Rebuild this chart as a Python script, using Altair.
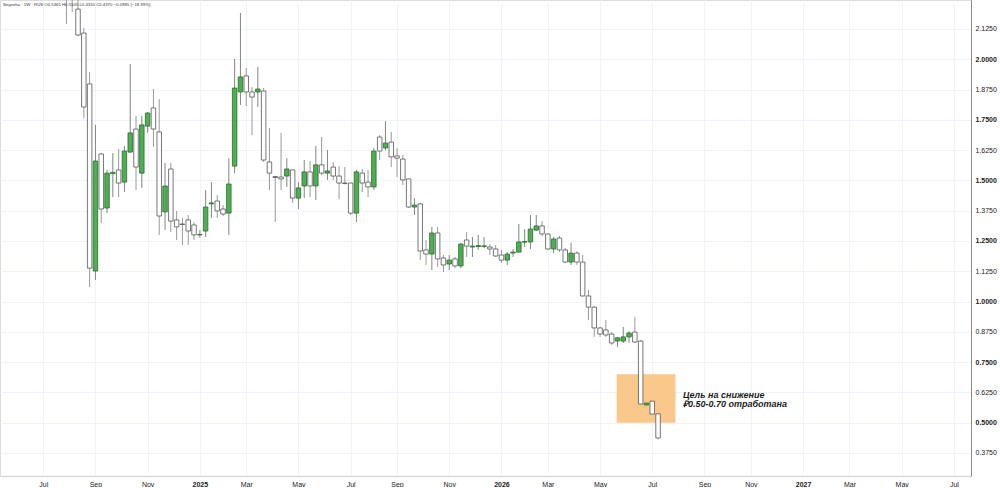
import altair as alt
import pandas as pd

# weekly candles (Mondays), first = 2024-07-29
start_week = "2024-07-29"
opens = [2.40, 2.30, 2.207, 2.108, 1.898, 1.126, 1.609, 1.386, 1.528, 1.543,
         1.493, 1.617, 1.712, 1.530, 1.724, 1.799, 1.700, 1.370, 1.547, 1.337,
         1.320, 1.337, 1.316, 1.275, 1.291, 1.403, 1.415, 1.382, 1.365, 1.559,
         1.865, 1.931, 1.865, 1.865, 1.869, 1.576, 1.516, 1.514, 1.518, 1.543,
         1.427, 1.477, 1.535, 1.477, 1.564, 1.530, 1.555, 1.518, 1.489, 1.489,
         1.365, 1.530, 1.493, 1.473, 1.679, 1.634, 1.658, 1.601, 1.588, 1.506,
         1.390, 1.403, 1.213, 1.196, 1.283, 1.180, 1.155, 1.176, 1.147, 1.254,
         1.225, 1.227, 1.227, 1.225, 1.217, 1.192, 1.171, 1.200, 1.204, 1.245,
         1.246, 1.295, 1.312, 1.279, 1.217, 1.262, 1.213, 1.163, 1.200, 1.163,
         1.023, 0.977, 0.891, 0.883, 0.866, 0.837, 0.837, 0.854, 0.874, 0.837,
         0.573, 0.589, 0.5365]
highs = [2.45, 2.34, 2.26, 2.129, 1.947, 1.729, 1.612, 1.543, 1.613, 1.630,
         1.642, 1.980, 1.766, 1.766, 1.782, 1.877, 1.836, 1.572, 1.572, 1.374,
         1.345, 1.357, 1.328, 1.295, 1.460, 1.493, 1.440, 1.398, 1.592, 2.001,
         2.191, 1.964, 1.885, 1.968, 1.881, 1.716, 1.518, 1.696, 1.592, 1.545,
         1.493, 1.584, 1.580, 1.642, 1.679, 1.625, 1.576, 1.559, 1.555, 1.490,
         1.543, 1.547, 1.543, 1.634, 1.687, 1.745, 1.700, 1.634, 1.605, 1.507,
         1.427, 1.407, 1.254, 1.308, 1.308, 1.192, 1.192, 1.184, 1.242, 1.287,
         1.266, 1.275, 1.266, 1.237, 1.233, 1.213, 1.204, 1.217, 1.320, 1.299,
         1.357, 1.357, 1.332, 1.281, 1.266, 1.270, 1.221, 1.242, 1.208, 1.192,
         1.048, 0.980, 0.895, 0.924, 0.874, 0.854, 0.895, 0.878, 0.936, 0.841,
         0.623, 0.593, 0.5505]
lows = [2.145, 2.195, 2.095, 1.757, 1.060, 1.089, 1.324, 1.365, 1.431, 1.431,
        1.452, 1.613, 1.460, 1.469, 1.696, 1.638, 1.275, 1.295, 1.287, 1.254,
        1.233, 1.233, 1.254, 1.263, 1.266, 1.345, 1.345, 1.353, 1.275, 1.530,
        1.811, 1.807, 1.687, 1.803, 1.576, 1.460, 1.328, 1.460, 1.473, 1.407,
        1.382, 1.427, 1.431, 1.419, 1.522, 1.502, 1.502, 1.423, 1.484, 1.357,
        1.328, 1.452, 1.431, 1.460, 1.584, 1.625, 1.555, 1.514, 1.481, 1.386,
        1.357, 1.171, 1.151, 1.130, 1.143, 1.122, 1.130, 1.138, 1.138, 1.184,
        1.184, 1.213, 1.221, 1.192, 1.184, 1.159, 1.151, 1.184, 1.203, 1.225,
        1.217, 1.291, 1.270, 1.213, 1.200, 1.204, 1.159, 1.151, 1.151, 1.020,
        0.924, 0.854, 0.854, 0.854, 0.821, 0.812, 0.829, 0.829, 0.829, 0.561,
        0.561, 0.536, 0.431]
closes = [2.30, 2.26, 2.100, 1.803, 1.138, 1.580, 1.382, 1.530, 1.533, 1.489,
          1.621, 1.696, 1.555, 1.729, 1.778, 1.712, 1.353, 1.477, 1.332, 1.308,
          1.318, 1.291, 1.275, 1.277, 1.390, 1.407, 1.374, 1.361, 1.485, 1.881,
          1.927, 1.865, 1.844, 1.877, 1.584, 1.530, 1.512, 1.506, 1.547, 1.427,
          1.469, 1.535, 1.477, 1.564, 1.530, 1.539, 1.518, 1.489, 1.487, 1.365,
          1.535, 1.489, 1.473, 1.621, 1.621, 1.654, 1.597, 1.592, 1.502, 1.390,
          1.398, 1.209, 1.196, 1.283, 1.176, 1.151, 1.171, 1.147, 1.237, 1.229,
          1.229, 1.231, 1.230, 1.217, 1.188, 1.171, 1.196, 1.204, 1.246, 1.248,
          1.299, 1.312, 1.279, 1.217, 1.258, 1.213, 1.163, 1.200, 1.163, 1.023,
          0.977, 0.891, 0.866, 0.862, 0.829, 0.850, 0.854, 0.870, 0.833, 0.577,
          0.581, 0.5355, 0.437]

y_ticks = [0.375, 0.5, 0.625, 0.75, 0.875, 1.0, 1.125, 1.25, 1.375, 1.5,
           1.625, 1.75, 1.875, 2.0, 2.125]
x_tick_dates = [(2024, 7, 1), (2024, 9, 2), (2024, 11, 4), (2025, 1, 6), (2025, 3, 3),
                (2025, 5, 5), (2025, 7, 7), (2025, 9, 1), (2025, 11, 3), (2026, 1, 5),
                (2026, 3, 2), (2026, 5, 4), (2026, 7, 6), (2026, 9, 7), (2026, 11, 2),
                (2027, 1, 4), (2027, 3, 1), (2027, 5, 3), (2027, 7, 5)]

zone_dates = ["2026-05-24", "2026-08-03"]
zone_prices = [0.50, 0.70]
note_lines = ["Цель на снижение", "₽0.50-0.70 отработана"]
note_date = "2026-08-12"
note_prices = [0.614, 0.577]
header = "Segezha · 1W · RUS O0.5365 H0.5505 L0.4310 C0.4370 −0.0985 (−18.39%)"

dates = pd.date_range(start_week, periods=len(opens), freq="7D").strftime("%Y-%m-%d")
df = pd.DataFrame({"date": dates, "open": opens, "high": highs, "low": lows, "close": closes})
df["dir"] = ["up" if c >= o else "down" for o, c in zip(opens, closes)]

FONT = "Liberation Sans"
xscale = alt.Scale(type="utc", padding=0,
                   domain=[alt.DateTime(year=2024, month=5, date=9, hours=20, utc=True),
                           alt.DateTime(year=2027, month=7, date=25, hours=16, utc=True)])
yscale = alt.Scale(domain=[0.280, 2.2445], nice=False, zero=False, padding=0)

xaxis = alt.Axis(
    values=[alt.DateTime(year=y, month=m, date=d, utc=True) for y, m, d in x_tick_dates],
    labelExpr="utcmonth(datum.value) == 0 ? utcFormat(datum.value, '%Y') : utcFormat(datum.value, '%b')",
    labelFontWeight={"condition": {"test": "utcmonth(datum.value) == 0", "value": "bold"}, "value": "normal"},
    title=None, grid=True, gridColor="#f0f3fa", gridWidth=1, ticks=False,
    domainColor="#d9d9d9", domainWidth=1.5, labelFont=FONT, labelFontSize=7,
    labelColor="#222222", labelPadding=4, labelFlush=False, labelOverlap=False,
)
yaxis = alt.Axis(
    orient="right", values=y_ticks, format=".4f",
    labelFontWeight={"condition": {"test": "(datum.value * 8) % 2 == 0", "value": "bold"}, "value": "normal"},
    title=None, grid=True, gridColor="#f0f3fa", gridWidth=1, ticks=False,
    domainColor="#8a8a8a", domainWidth=1, labelFont=FONT, labelFontSize=7,
    labelColor="#222222", labelPadding=4, labelOverlap=False, labelBound=False,
)

base = alt.Chart(df)

wicks = base.mark_rule(strokeWidth=1, clip=True).encode(
    x=alt.X("date:T", scale=xscale, axis=xaxis),
    y=alt.Y("low:Q", scale=yscale, axis=yaxis),
    y2="high:Q",
    color=alt.Color("dir:N", scale=alt.Scale(domain=["up", "down"], range=["#7c8a7c", "#9a9a9a"]), legend=None),
)
bodies = base.mark_bar(size=4.5, strokeWidth=0.8, clip=True).encode(
    x=alt.X("date:T", scale=xscale, axis=xaxis),
    y=alt.Y("open:Q", scale=yscale, axis=yaxis),
    y2="close:Q",
    fill=alt.Fill("dir:N", scale=alt.Scale(domain=["up", "down"], range=["#4caf50", "#ffffff"]), legend=None),
    stroke=alt.Stroke("dir:N", scale=alt.Scale(domain=["up", "down"], range=["#2e6b31", "#555555"]), legend=None),
)

zone_df = pd.DataFrame({"d1": [zone_dates[0]], "d2": [zone_dates[1]],
                        "p1": [zone_prices[0]], "p2": [zone_prices[1]]})
zone = alt.Chart(zone_df).mark_rect(color="#f9c88a", opacity=1).encode(
    x=alt.X("d1:T", scale=xscale, axis=xaxis), x2="d2:T",
    y=alt.Y("p1:Q", scale=yscale, axis=yaxis), y2="p2:Q",
)

note_df = pd.DataFrame({"date": [note_date] * 2, "price": note_prices, "text": note_lines})
note = alt.Chart(note_df).mark_text(
    align="left", baseline="middle", font=FONT, fontSize=9, fontStyle="italic",
    fontWeight="bold", color="#1e1e1e",
).encode(
    x=alt.X("date:T", scale=xscale, axis=xaxis), y=alt.Y("price:Q", scale=yscale, axis=yaxis), text="text:N",
)

head = alt.Chart(pd.DataFrame({"t": [header]})).mark_text(
    align="left", baseline="middle", font=FONT, fontSize=4.3, color="#333333",
).encode(x=alt.value(3), y=alt.value(5), text="t:N")

chart = alt.layer(wicks, zone, bodies, note, head).properties(
    width=971, height=476, padding=0,
).configure_view(stroke=None).configure_axis(labelOverlap=False).configure(background="white")

chart.save("out.html", embed_options={"renderer": "svg", "actions": False})
